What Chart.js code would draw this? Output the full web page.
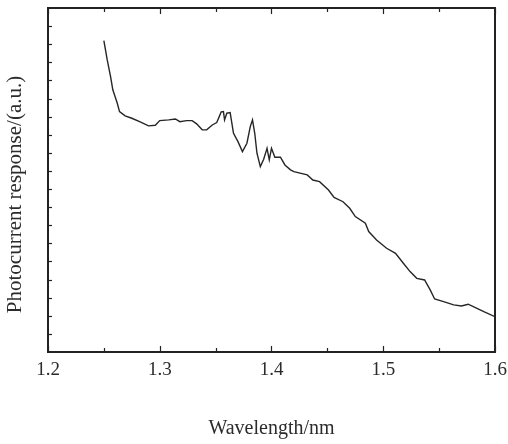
<!DOCTYPE html>
<html>
<head>
<meta charset="utf-8">
<script src="https://cdn.jsdelivr.net/npm/chart.js@4/dist/chart.umd.min.js"></script>
<style>
    html, body { margin: 0; padding: 0; background: #fff; }
    canvas { display: block; }
</style>
</head>
<body>
<canvas id="grafico" width="508" height="444"></canvas>
<script>
// valores
const wavelength = [1.250, 1.253, 1.256, 1.258, 1.262, 1.264, 1.269, 1.275, 1.282, 1.290,
    1.296, 1.300, 1.308, 1.314, 1.318, 1.324, 1.329, 1.333, 1.338, 1.342,
    1.347, 1.351, 1.355, 1.357, 1.358, 1.360, 1.363, 1.366, 1.370, 1.374,
    1.378, 1.381, 1.383, 1.385, 1.387, 1.390, 1.393, 1.396, 1.398, 1.400,
    1.403, 1.408, 1.412, 1.417, 1.420, 1.432, 1.437, 1.443, 1.451, 1.456,
    1.464, 1.470, 1.475, 1.484, 1.487, 1.494, 1.503, 1.511, 1.518, 1.524,
    1.530, 1.537, 1.542, 1.546, 1.554, 1.563, 1.570, 1.576, 1.582, 1.590, 1.600];
const response = [17.20, 16.13, 15.21, 14.48, 13.74, 13.28, 13.04, 12.91, 12.72, 12.49,
    12.52, 12.78, 12.82, 12.87, 12.72, 12.78, 12.78, 12.60, 12.27, 12.27,
    12.54, 12.67, 13.26, 13.28, 12.82, 13.19, 13.22, 12.08, 11.62, 11.07,
    11.53, 12.45, 12.82, 12.08, 10.98, 10.24, 10.65, 11.25, 10.61, 11.25,
    10.76, 10.76, 10.33, 10.06, 9.96, 9.78, 9.50, 9.41, 8.95, 8.54,
    8.30, 7.94, 7.48, 7.11, 6.65, 6.19, 5.73, 5.45, 4.90, 4.44,
    4.07, 3.98, 3.43, 2.93, 2.78, 2.60, 2.54, 2.64, 2.47, 2.23, 1.95];
const xTicks = [1.2, 1.3, 1.4, 1.5, 1.6];
const yTitle = 'Photocurrent response/(a.u.)';

const fonte = "'Liberation Serif', 'Times New Roman', serif";
const corTexto = '#2b2b2b';

// moldura, ticks para dentro e titulo do eixo y (fica um pouco abaixo do centro no original)
const moldura = {
    id: 'moldura',
    afterDraw(chart) {
        const ctx = chart.ctx;
        const a = chart.chartArea;
        const sx = chart.scales.x;
        const sy = chart.scales.y;
        ctx.save();
        ctx.strokeStyle = '#222';
        ctx.lineWidth = 1.2;
        for (let i = 0; i <= 8; i++) {
            const v = 1.2 + i * 0.05;
            const px = Math.round(sx.getPixelForValue(v)) + 0.5;
            const len = i % 2 === 0 ? 6 : 4;
            ctx.beginPath();
            ctx.moveTo(px, a.bottom);
            ctx.lineTo(px, a.bottom - len);
            ctx.moveTo(px, a.top);
            ctx.lineTo(px, a.top + len);
            ctx.stroke();
        }
        for (let j = 1; j < 19; j++) {
            const py = Math.round(sy.getPixelForValue(j)) + 0.5;
            ctx.beginPath();
            ctx.moveTo(a.left, py);
            ctx.lineTo(a.left + 4, py);
            ctx.stroke();
        }
        ctx.lineWidth = 2;
        ctx.strokeRect(a.left, a.top, a.right - a.left, a.bottom - a.top);

        ctx.translate(sy.left + 15, sy.getPixelForValue(8.7));
        ctx.rotate(-Math.PI / 2);
        ctx.fillStyle = corTexto;
        ctx.font = '21px ' + fonte;
        ctx.textAlign = 'center';
        ctx.textBaseline = 'middle';
        ctx.fillText(yTitle, 0, 0);
        ctx.restore();
    }
};

new Chart(document.getElementById('grafico'), {
    type: 'line',
    data: {
        datasets: [{
            data: wavelength.map((w, i) => ({ x: w, y: response[i] })),
            borderColor: '#262626',
            borderWidth: 1.4,
            pointRadius: 0,
            tension: 0
        }]
    },
    options: {
        responsive: false,
        animation: false,
        devicePixelRatio: 1,
        layout: { padding: { left: 0, right: 13, top: 8, bottom: 0 } },
        plugins: { legend: { display: false }, tooltip: { enabled: false } },
        scales: {
            x: {
                type: 'linear',
                min: 1.2,
                max: 1.6,
                afterBuildTicks: (scale) => { scale.ticks = xTicks.map(v => ({ value: v })); },
                afterFit: (scale) => {
                    scale.height = 92;
                    scale.paddingLeft = 0;
                    scale.paddingRight = 0;
                },
                grid: { display: false, drawTicks: false },
                border: { display: false },
                ticks: {
                    padding: 7,
                    color: corTexto,
                    font: { family: fonte, size: 19 },
                    callback: (v) => Number(v).toFixed(1)
                },
                title: {
                    display: true,
                    text: 'Wavelength/nm',
                    color: corTexto,
                    font: { family: fonte, size: 20 },
                    padding: { top: 0, bottom: 3 }
                }
            },
            y: {
                min: 0,
                max: 19,
                afterFit: (scale) => { scale.width = 48; },
                grid: { display: false, drawTicks: false },
                border: { display: false },
                ticks: { display: false },
                title: { display: false }
            }
        }
    },
    plugins: [moldura]
});
</script>
</body>
</html>
